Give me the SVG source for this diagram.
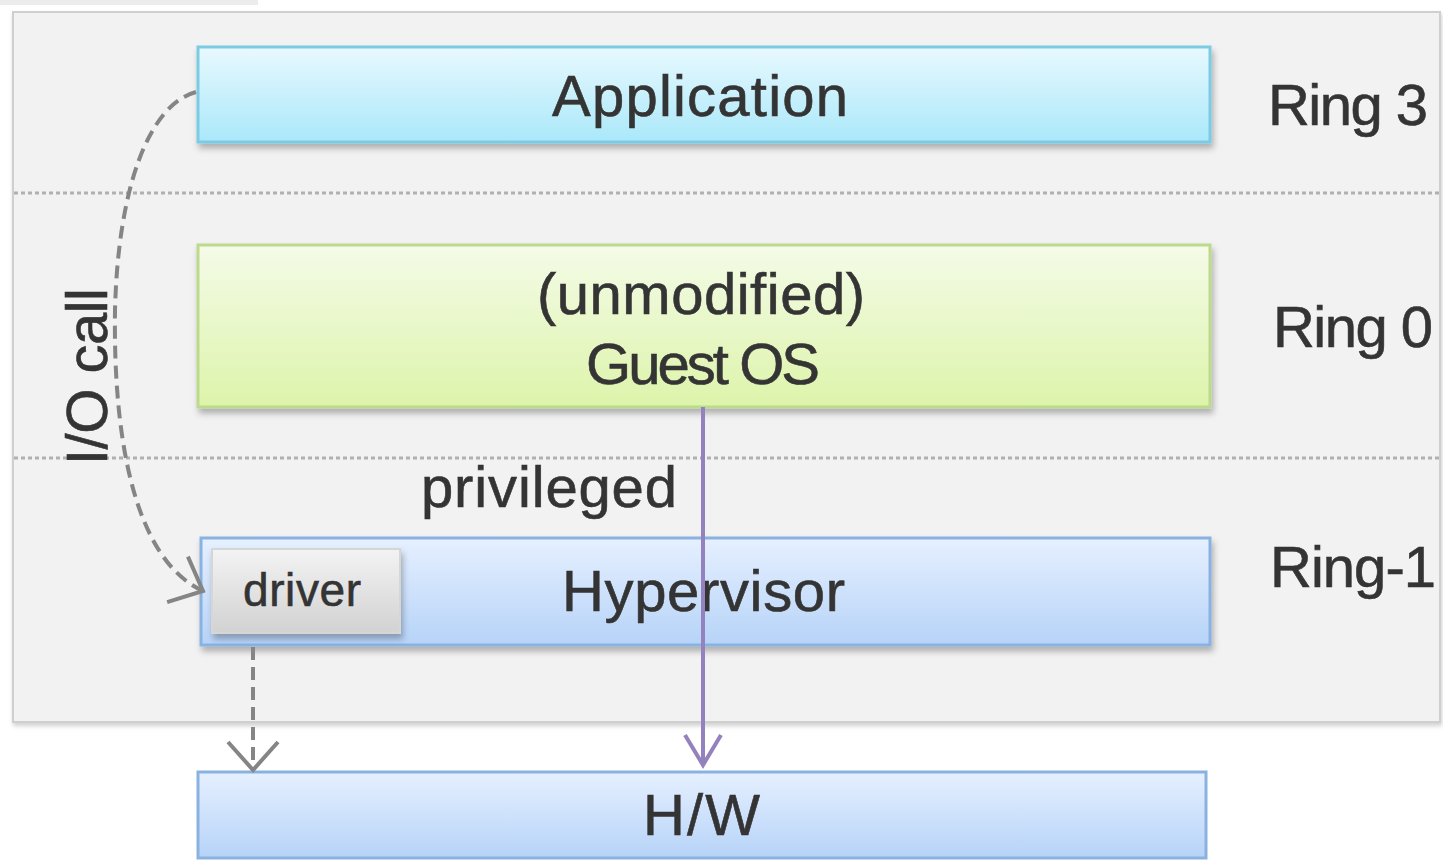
<svg xmlns="http://www.w3.org/2000/svg" width="1443" height="861" viewBox="0 0 1443 861">
  <style>
    .lbl { font-family: "Liberation Sans", Arial, sans-serif; font-size: 58px; fill: #343434; stroke: #343434; stroke-width: 0.6; }
    .small { font-size: 46px; }
    .sep { stroke: #b0b0b0; stroke-width: 3; stroke-dasharray: 4 3; fill: none; }
    .dash { stroke: #858585; stroke-width: 4; stroke-dasharray: 13 7; fill: none; }
    .priv { stroke: #9482be; stroke-width: 4; fill: none; }
  </style>
  <defs>
    <linearGradient id="gApp" x1="0" y1="0" x2="0" y2="1">
      <stop offset="0" stop-color="#e8f9fe"/>
      <stop offset="1" stop-color="#aae8fa"/>
    </linearGradient>
    <linearGradient id="gOs" x1="0" y1="0" x2="0" y2="1">
      <stop offset="0" stop-color="#f4fbe8"/>
      <stop offset="1" stop-color="#ddf4aa"/>
    </linearGradient>
    <linearGradient id="gHv" x1="0" y1="0" x2="0" y2="1">
      <stop offset="0" stop-color="#e6f0ff"/>
      <stop offset="1" stop-color="#b6d3f8"/>
    </linearGradient>
    <linearGradient id="gDrv" x1="0" y1="0" x2="0" y2="1">
      <stop offset="0" stop-color="#f3f3f3"/>
      <stop offset="1" stop-color="#d2d2d2"/>
    </linearGradient>
    <filter id="shadow" x="-5%" y="-20%" width="110%" height="150%">
      <feDropShadow dx="2" dy="5" stdDeviation="3" flood-color="#000" flood-opacity="0.28"/>
    </filter>
    <filter id="panelShadow" x="-2%" y="-2%" width="104%" height="104%">
      <feDropShadow dx="1" dy="3" stdDeviation="2" flood-color="#000" flood-opacity="0.18"/>
    </filter>
    <marker id="chevGray" markerUnits="userSpaceOnUse" markerWidth="40" markerHeight="60" refX="30" refY="27" orient="auto">
      <path d="M2,2 L30,27 L2,52" fill="none" stroke="#858585" stroke-width="4"/>
    </marker>
    <marker id="chevPurple" markerUnits="userSpaceOnUse" markerWidth="40" markerHeight="50" refX="32" refY="20" orient="auto">
      <path d="M2,2 L32,20 L2,38" fill="none" stroke="#9482be" stroke-width="4"/>
    </marker>
  </defs>

  <rect width="1443" height="861" fill="#ffffff"/>
  <rect x="0" y="0" width="258" height="5" fill="#ececec"/>

  <!-- privilege-level panel with ring separators -->
  <g id="panel">
    <rect x="13" y="12" width="1427" height="710" fill="#f2f2f2" stroke="#cfcfcf" stroke-width="2" filter="url(#panelShadow)"/>
    <line class="sep" x1="14" y1="193" x2="1440" y2="193"/>
    <line class="sep" x1="14" y1="458" x2="1440" y2="458"/>
  </g>

  <g id="application">
    <rect x="198" y="47" width="1012" height="95" fill="url(#gApp)" stroke="#7ccbe4" stroke-width="3" filter="url(#shadow)"/>
    <text class="lbl" x="552" y="116" textLength="296">Application</text>
  </g>

  <g id="guest-os">
    <rect x="198" y="245" width="1012" height="162" fill="url(#gOs)" stroke="#bcd98e" stroke-width="3" filter="url(#shadow)"/>
    <text class="lbl" x="537" y="314" textLength="328">(unmodified)</text>
    <text class="lbl" x="586" y="384" textLength="234">Guest OS</text>
  </g>

  <g id="hypervisor">
    <rect x="201" y="538" width="1009" height="107" fill="url(#gHv)" stroke="#8ab2e0" stroke-width="3" filter="url(#shadow)"/>
    <text class="lbl" x="562" y="611" textLength="283">Hypervisor</text>
  </g>

  <g id="driver">
    <rect x="212" y="549" width="188" height="84" fill="url(#gDrv)" stroke="#d6d6d6" stroke-width="2" filter="url(#shadow)"/>
    <text class="lbl small" x="243" y="606" textLength="118">driver</text>
  </g>

  <g id="hardware">
    <rect x="198" y="772" width="1008" height="86" fill="url(#gHv)" stroke="#8ab2e0" stroke-width="3"/>
    <text class="lbl" x="643" y="835" textLength="117">H/W</text>
  </g>

  <g id="ring-labels">
    <text class="lbl" x="1268" y="125" textLength="160">Ring 3</text>
    <text class="lbl" x="1273" y="347" textLength="160">Ring 0</text>
    <text class="lbl" x="1270" y="587" textLength="166">Ring-1</text>
  </g>

  <g id="connectors">
    <path class="dash" d="M196,92 C148,105 118,190 115,310 C113,440 135,560 203,591" marker-end="url(#chevGray)"/>
    <line class="dash" x1="253" y1="647" x2="253" y2="770" marker-end="url(#chevGray)"/>
    <line class="priv" x1="703" y1="407" x2="703" y2="765" marker-end="url(#chevPurple)"/>
    <text class="lbl" transform="translate(107,465) rotate(-90)" x="0" y="0" textLength="177">I/O call</text>
    <text class="lbl" x="421" y="507" textLength="256">privileged</text>
  </g>
</svg>
